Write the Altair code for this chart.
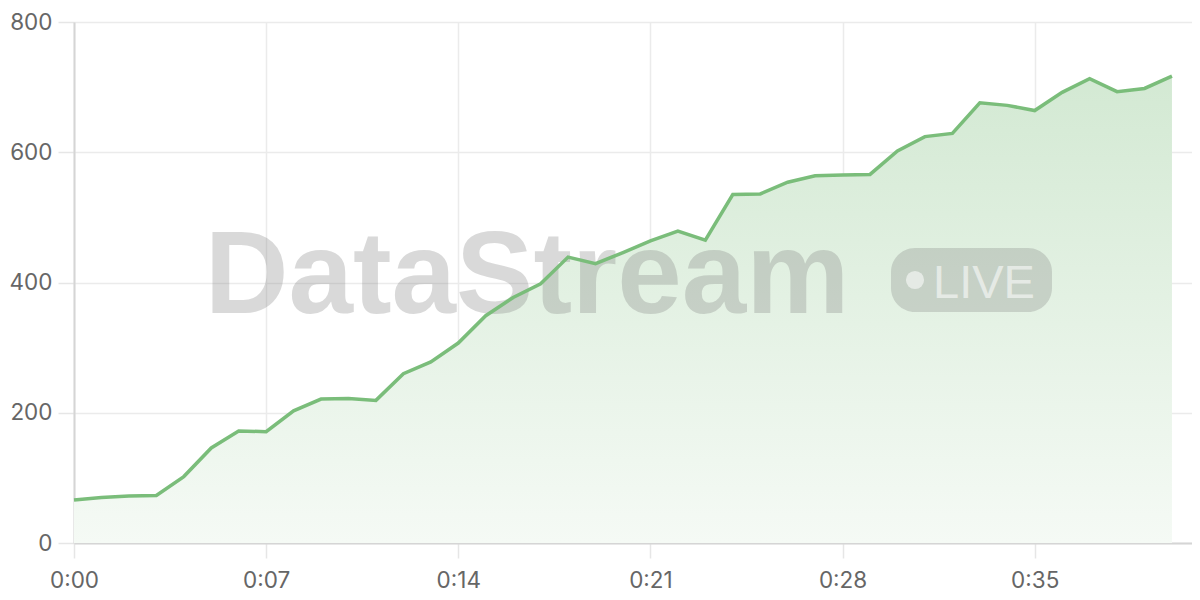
import altair as alt
import pandas as pd

seconds = list(range(41))
values = [66, 70, 72, 73, 102, 146, 172, 171, 203, 221,
          222, 219, 260, 278, 307, 349, 377, 398, 439, 429,
          446, 464, 479, 465, 535, 536, 554, 564, 565, 566,
          602, 624, 629, 676, 672, 664, 692, 713, 693, 698, 717]
tick_values = [0, 7, 14, 21, 28, 35]
tick_labels = ["0:00", "0:07", "0:14", "0:21", "0:28", "0:35"]
y_ticks = [0, 200, 400, 600, 800]

df = pd.DataFrame({"t": seconds, "v": values})

FONT = "Inter"
WFONT = "Liberation Sans"
LINE = "#7abd7a"

label_arr = "[" + ",".join("'" + s + "'" for s in tick_labels) + "]"

x_enc = alt.X(
    "t:Q",
    scale=alt.Scale(domain=[0, 40.73], nice=False, zero=False),
    axis=alt.Axis(
        values=tick_values,
        labelExpr=label_arr + "[round(datum.value/7)]",
        title=None,
        grid=True,
        gridColor="#ebebeb",
        gridWidth=1.5,
        domainColor="#d5d5d5",
        domainWidth=2,
        tickColor="#e6e6e6",
        tickWidth=1.5,
        tickSize=15,
        labelPadding=11,
        labelFont=FONT,
        labelFontSize=22.5,
        labelColor="#666666",
        labelFlush=False,
    ),
)
y_enc = alt.Y(
    "v:Q",
    scale=alt.Scale(domain=[0, 800], nice=False),
    axis=alt.Axis(
        values=y_ticks,
        title=None,
        grid=True,
        gridColor="#ebebeb",
        gridWidth=1.5,
        domainColor="#d5d5d5",
        domainWidth=2,
        tickColor="#e6e6e6",
        tickWidth=1.5,
        tickSize=16,
        labelPadding=6,
        labelFont=FONT,
        labelFontSize=22.5,
        labelColor="#666666",
        minExtent=66,
        maxExtent=66,
    ),
)

base = alt.Chart(df)

area = base.mark_area(
    color=alt.Gradient(
        gradient="linear",
        stops=[
            alt.GradientStop(color="#f5faf5", offset=0),
            alt.GradientStop(color="#d3e9d3", offset=1),
        ],
        x1=1, x2=1, y1=1, y2=0,
    ),
).encode(x=x_enc, y=y_enc)

line = base.mark_line(color=LINE, strokeWidth=3.5).encode(x="t:Q", y="v:Q")

wm = pd.DataFrame({"label": ["DataStream"]})
watermark = alt.Chart(wm).mark_text(
    font=WFONT, fontSize=116, fontWeight="bold", color="#7a7a7a", opacity=0.28,
    align="center", baseline="alphabetic",
).encode(x=alt.value(453), y=alt.value(291), text="label:N")

badge = alt.Chart(wm).mark_rect(
    color="#7a7a7a", opacity=0.27, cornerRadius=24,
).encode(x=alt.value(817), x2=alt.value(978), y=alt.value(226), y2=alt.value(290))

dot = alt.Chart(wm).mark_circle(color="#ffffff", opacity=0.55, size=330).encode(
    x=alt.value(841), y=alt.value(258)
)

live = alt.Chart(pd.DataFrame({"label": ["LIVE"]})).mark_text(
    font=WFONT, fontSize=47, color="#ffffff", opacity=0.55,
    align="left", baseline="alphabetic",
).encode(x=alt.value(859), y=alt.value(276), text="label:N")

chart = (
    alt.layer(area, watermark, badge, dot, live, line)
    .properties(width=1118, height=521, padding={"left": 0, "top": 3, "right": 0, "bottom": 5})
    .configure_view(stroke=None)
    .configure(background="white")
)

chart.save("out.html", embed_options={"renderer": "svg", "actions": False})
